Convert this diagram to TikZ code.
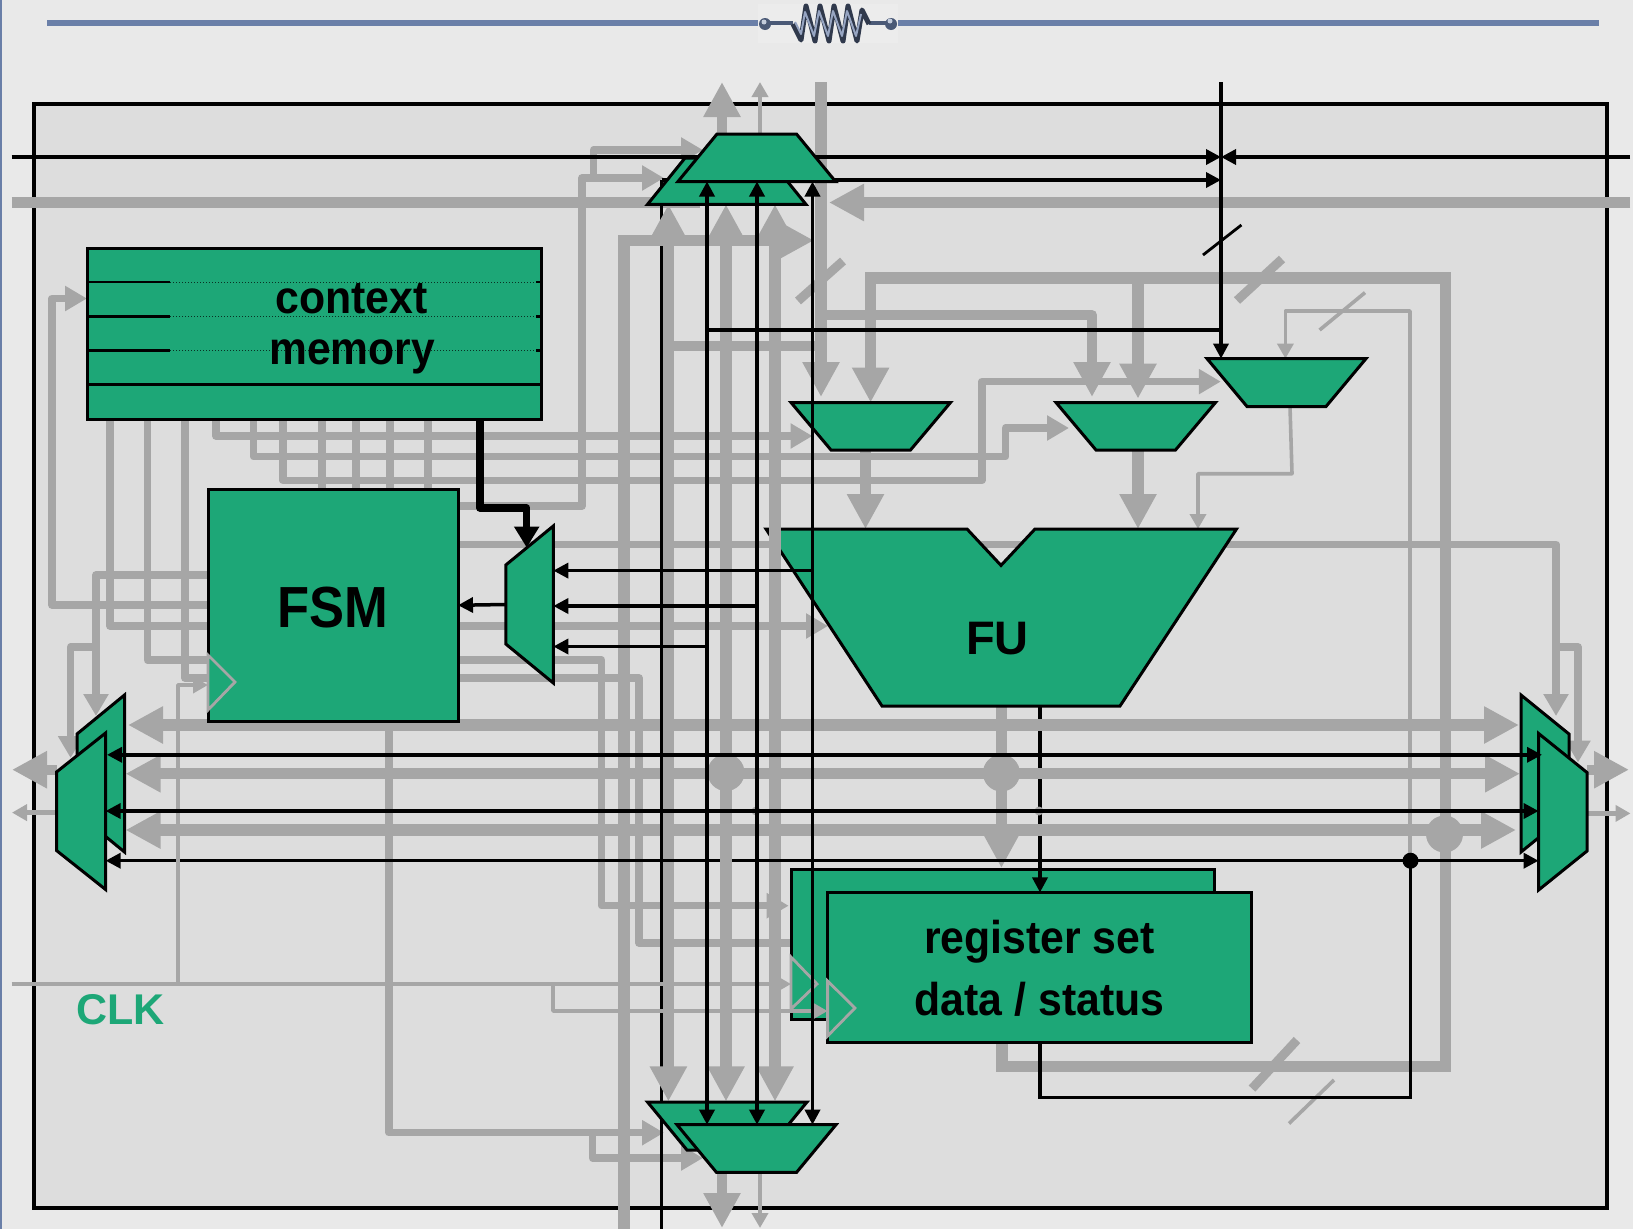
\documentclass[tikz,border=0pt]{standalone}
\usepackage{graphicx}
\usepackage{fontspec}
\setmainfont{Liberation Sans}
\usetikzlibrary{arrows.meta,calc}
\definecolor{gr}{HTML}{A6A6A6}
\definecolor{grn}{HTML}{1DA777}
\definecolor{pagebg}{HTML}{E9E9E9}
\definecolor{panel}{HTML}{DDDDDD}
\definecolor{hdr}{HTML}{6A7FA8}
\tikzset{
 slot/.style={inner sep=0pt,outer sep=0pt,draw=none},
 block/.style={fill=grn,draw=black,line width=3pt,line join=miter},
 clk/.style={fill=grn,draw=gr,line width=2.8pt,line join=miter},
 bus/.style={draw=gr,line width=11.5pt,line join=miter},
 wire/.style={draw=gr,line width=7.5pt,line join=round},
 thn/.style={draw=gr,line width=3.6pt,line join=round},
 blk/.style={draw=black,line width=3.5pt,line join=miter},
 bigtip/.style={-{Triangle[length=35pt,width=35pt]}},
 bigtips/.style={{Triangle[length=35pt,width=35pt]}-{Triangle[length=35pt,width=35pt]}},
 medtip/.style={-{Triangle[length=22pt,width=24pt]}},
 smalltip/.style={-{Triangle[length=15pt,width=16pt]}},
 blktip/.style={-{Triangle[length=15pt,width=15pt]}},
 blktips/.style={{Triangle[length=15pt,width=15pt]}-{Triangle[length=15pt,width=15pt]}},
 lbl/.style={inner sep=0pt,anchor=base,font=\bfseries},
 junction/.style={circle,fill=gr,inner sep=0pt,minimum size=37pt},
}
\newcommand\slotbox[5]{\node[slot,minimum width={#4-#2},minimum height={#5-#3}] (#1) at ({(#2+#4)/2},{(#3+#5)/2}) {};}
\newcommand\trapdown[2]{\draw[block] (#1.north west) -- (#1.north east) -- ([xshift=-#2pt]#1.south east) -- ([xshift=#2pt]#1.south west) -- cycle;}
\newcommand\trapup[2]{\draw[block] ([xshift=#2pt]#1.north west) -- ([xshift=-#2pt]#1.north east) -- (#1.south east) -- (#1.south west) -- cycle;}
\newcommand\sideR[2]{\draw[block] (#1.north east) -- (#1.south east) -- ([yshift=#2pt]#1.south west) -- ([yshift=-#2pt]#1.north west) -- cycle;}
\newcommand\sideL[2]{\draw[block] (#1.north west) -- (#1.south west) -- ([yshift=#2pt]#1.south east) -- ([yshift=-#2pt]#1.north east) -- cycle;}
\begin{document}
\begin{tikzpicture}[x=1pt,y=-1pt]
\useasboundingbox (0,0) rectangle (1633,1229);
\fill[pagebg] (0,0) rectangle (1633,1229);
\fill[hdr] (0,0) rectangle (2,1229);
% named places
\slotbox{hdrline}{46.5}{20.2}{1599}{25.8}
\slotbox{frame}{34}{104}{1607}{1208}
\slotbox{ctx}{87}{248}{541}{419}
\slotbox{fsm}{208}{489.5}{458}{721}
\slotbox{smux}{505.8}{526}{553.3}{683}
\slotbox{fu}{766}{529}{1236.5}{706}
\slotbox{regb}{791}{869.6}{1214}{1019}
\slotbox{regf}{827.6}{892.4}{1251.6}{1042}
\slotbox{mtb}{647.5}{158}{806}{204.4}
\slotbox{mtf}{678}{134}{835.5}{181.5}
\slotbox{mbb}{647.5}{1102}{807}{1150}
\slotbox{mbf}{677}{1124.7}{836}{1172.4}
\slotbox{ma}{791}{402.5}{950.5}{450}
\slotbox{mb}{1056}{402.5}{1215.5}{450}
\slotbox{mc}{1207}{358.6}{1366}{406.5}
\slotbox{lb}{77}{695}{124.5}{852}
\slotbox{lf}{56.5}{733}{105.6}{889.5}
\slotbox{rb}{1521}{695}{1569}{852}
\slotbox{rf}{1538.6}{733.5}{1587}{890}
\coordinate (topbus) at (821,82);
\coordinate (topv) at (1221,82);
\coordinate (wl) at (11.5,157);
\coordinate (wr) at (1630,157);
\coordinate (gl) at (11.5,202.5);
\coordinate (gr1) at (1630,202.5);
\coordinate (clkin) at (11.5,984);
% header
\fill[hdr] (hdrline.north west) rectangle (hdrline.south east);
\fill[white!15!pagebg] (757.6,4) rectangle (898,43);
\draw[line width=4pt,draw=hdr!70!black] (765,23) -- (793,23);
\draw[line width=4pt,draw=hdr!70!black] (869,23) -- (891,23);
\fill[hdr!70!black] (765,24) circle (6pt) (891,24) circle (6pt);
\fill[hdr!40!white] (764,22) circle (2.5pt) (890,21) circle (2.5pt);
\draw[line width=5pt,draw=hdr!45!black,line join=round] (793,24) -- (801,40) -- (806,6) -- (815,41) -- (820,6) -- (829,41) -- (834,6) -- (843,41) -- (848,6) -- (857,41) -- (862,10) -- (869,24);
\draw[line width=2pt,draw=hdr!70!white,line join=round] (795,22) -- (801,34) -- (805,12) -- (814,36) -- (819,11) -- (828,36) -- (833,11) -- (842,36) -- (847,11) -- (856,36) -- (861,14);
% frame
\draw[fill=panel,draw=black,line width=3.5pt] (frame.north west) rectangle (frame.south east);
% --- grey under the blocks
\draw[bus] (gl) -- (700,202.5);
\draw[bus,bigtip] (gr1) -- (829,202.5);
\draw[wire,medtip] (fsm.east |- 0,544.5) -- (1556,544.5) -- (1556,716);
\draw[wire,medtip] (1556,647) -- (1578,647) -- (1578,762.5);
\draw[wire,medtip] (110,0 |- ctx.south) -- (110,626) -- (828,626);
\draw[wire,medtip] (147.5,0 |- ctx.south) -- (147.5,660) -- (601.5,660) -- (601.5,905.7) -- (788.7,905.7);
\draw[wire] (185,0 |- ctx.south) -- (185,678) -- (639,678) -- (639,943) -- (regb.west |- 0,943);
\draw[wire,medtip] (216,0 |- ctx.south) -- (216,436) -- (812.5,436);
\draw[wire,medtip] (253.6,0 |- ctx.south) -- (253.6,456.7) -- (1005.6,456.7) -- (1005.6,428) -- (1069,428);
\draw[wire,medtip] (283,0 |- ctx.south) -- (283,480.4) -- (981.8,480.4) -- (981.8,381.6) -- (1220.8,381.6);
\foreach \q in {322,356,390,428}{\draw[wire] (\q,0 |- ctx.south) -- (\q,0 |- fsm.north);}
\draw[wire,medtip] (fsm.west |- 0,575) -- (96,575) -- (96,716);
\draw[wire,medtip] (96,647) -- (70.6,647) -- (70.6,758);
\draw[wire,medtip] (fsm.west |- 0,605) -- (52,605) -- (52,298.5) -- (ctx.west |- 0,298.5);
\draw[wire,medtip] (fsm.east |- 0,506) -- (582,506) -- (582,178) -- (664,178);
\draw[wire,medtip] (593.6,178) -- (593.6,150) -- (703,150);
\draw[wire,medtip] (389,0 |- fsm.south) -- (389,1132.7) -- (664,1132.7);
\draw[wire,medtip] (592.6,1132.7) -- (592.6,1158) -- (703,1158);
% black wire that runs under the grey bands
\draw[blk] (1040,0 |- fu.south) -- (1040,850);
% bands
\draw[bus,bigtips] (128,725) -- (1519,725);
\draw[bus,bigtips] (125.5,773.7) -- (1520,773.7);
\draw[bus,bigtips] (125.5,830) -- (1516,830);
\node[junction] (j1) at (726,772.5) {};
\node[junction] (j2) at (1001.4,773) {};
\node[junction] (j3) at (1444.5,834) {};
% heavy feedback bus
\draw[bus,bigtip] (1002,0 |- regf.south) -- (1002,1066.5) -- (1445.6,1066.5) -- (1445.6,278) -- (870.6,278) -- (870.6,0 |- ma.north);
\draw[bus,bigtip] (1138,278) -- (1138,398.6);
\draw[bus,bigtip] (topbus) -- (821,397);
\draw[wire,line width=10pt,bigtip,line join=round] (821,315) -- (1092,315) -- (1092,397);
\draw[bus,line width=10.5pt] (669.5,346) -- (821,346);
\draw[bus,line width=9pt] (798,301) -- (843,261);
\draw[bus,line width=9pt] (1237,300.5) -- (1282,259);
\draw[bus,line width=9pt] (1252,1088.6) -- (1297,1040);
\draw[thn] (1289,1123.5) -- (1334,1080);
\draw[thn] (1319.6,330) -- (1365,292.6);
% thin feedback
\draw[thn,smalltip] (1410,860) -- (1410,311) -- (1285.4,311) -- (1285.4,0 |- mc.north);
\draw[thn,smalltip] (1290,0 |- mc.south) -- (1292,473.7) -- (1198,473.7) -- (1198,0 |- fu.north);
% mux outputs and FU output
\draw[bus,bigtip] (865.5,0 |- ma.south) -- (865.5,0 |- fu.north);
\draw[bus,bigtip] (1138,0 |- mb.south) -- (1138,0 |- fu.north);
\draw[bus,bigtip] (1001.4,0 |- fu.south) -- (1001.4,868);
% top and bottom outputs
\draw[bus,line width=10pt,bigtip] (722,0 |- mtf.north) -- (722,82);
\draw[thn,line width=4.5pt,smalltip] (760,0 |- mtf.north) -- (760,82);
\draw[bus,line width=10pt,bigtip] (722,0 |- mbf.south) -- (722,1228);
\draw[thn,line width=4.5pt,smalltip] (760,0 |- mbf.south) -- (760,1228);
% side outputs
\draw[bus,line width=10pt,bigtip] (lf.west |- 0,769.7) -- (12,769.7);
\draw[thn,line width=4.5pt,smalltip] (lf.west |- 0,812.6) -- (12,812.6);
\draw[bus,line width=10pt,bigtip] (rf.east |- 0,769.7) -- (1629,769.7);
\draw[thn,line width=4.5pt,smalltip] (rf.east |- 0,813.4) -- (1630.5,813.4);
% blocks
\draw[block,draw=black] (ctx.north west) rectangle (ctx.south east);
\foreach \q in {282,316.3,350.3}{
  \draw[black,line width=2.8pt] (ctx.west |- 0,\q) -- (170,\q);
  \draw[black!70!grn,line width=1pt,dotted] (170,\q) -- (536,\q);
  \draw[black,line width=2.8pt] (536,\q) -- (ctx.east |- 0,\q);
}
\draw[black,line width=2.8pt] (ctx.west |- 0,384.3) -- (ctx.east |- 0,384.3);
\draw[block] (fsm.north west) rectangle (fsm.south east);
\draw[clk] (208,655) -- (235,682) -- (208,710) -- cycle;
\sideR{smux}{39}
\trapdown{ma}{40}
\trapdown{mb}{40}
\trapdown{mc}{40}
\draw[block] (fu.north west) -- (967,529) -- (1001,565.4) -- (1035,529) -- (fu.north east) -- (1120,706) -- (882,706) -- cycle;
% heavy black control arrow
\draw[blk,line width=7.5pt,line join=round,-{Triangle[length=21pt,width=24pt]}] (480,0 |- ctx.south) -- (480,508) -- (526.7,508) -- (526.7,547.6);
% vertical buses over the FU corner
\draw[blk] (661.6,180) -- (661.6,1229);
\draw[bus,bigtip] (624,1229) -- (624,240.4) -- (814,240.4);
\draw[bus,bigtips] (668.4,204.4) -- (668.4,1101.4);
\draw[bus,bigtips] (775,204.4) -- (775,1101.4);
\draw[blk,blktips] (lf.east |- 0,860.7) -- (rf.west |- 0,860.7);
\draw[bus,bigtips] (726,204.4) -- (726,1101.4);
% registers
\draw[block] (regb.north west) rectangle (regb.south east);
\draw[clk] (791,957) -- (817,984) -- (791,1009) -- cycle;
\draw[block] (regf.north west) rectangle (regf.south east);
\draw[clk] (827.6,981) -- (855,1008) -- (827.6,1036) -- cycle;
% CLK net
\draw[thn,smalltip] (clkin) -- (regb.west |- 0,984);
\draw[thn,smalltip] (178,984) -- (178,685) -- (fsm.west |- 0,685);
\draw[thn,smalltip] (553,984) -- (553,1011) -- (regf.west |- 0,1011);
% side and top muxes
\sideR{lb}{39}
\sideR{lf}{39}
\sideL{rb}{39}
\sideL{rf}{39}
\draw[blk,blktip] (wl) -- (topv |- wl);
\draw[blk,blktip] (661.6,180) -- (1221,180);
\draw[blk,blktip] (wr) -- (topv |- wr);
\trapup{mtb}{37.5}
\trapup{mtf}{39}
\trapdown{mbb}{39.5}
\trapdown{mbf}{39.5}
% small grey dots under the black wires
\fill[gr] (756,811) circle (4.5pt) (1039,811) circle (4.5pt);
% black over everything
\draw[blk,blktip] (topv) -- (topv |- mc.north);
\draw[blk,line width=2.8pt] (1203,255) -- (1241.4,225);
\draw[blk] (707,330) -- (1221,330);
\draw[blk,blktips] (707,0 |- mtf.south) -- (707,0 |- mbf.north);
\draw[blk,blktips] (757,0 |- mtf.south) -- (757,0 |- mbf.north);
\draw[blk,blktips] (812.5,0 |- mtf.south) -- (812.5,0 |- mbf.north);
\draw[blk,blktip] (812.5,570.6) -- (smux.east |- 0,570.6);
\draw[blk,blktip] (757,606) -- (smux.east |- 0,606);
\draw[blk,blktip] (707,646.5) -- (smux.east |- 0,646.5);
\draw[blk,blktip] (smux.west) -- (fsm.east);
\draw[blk,blktips] (107,754.8) -- (1542,754.8);
\draw[blk,blktips] (lf.east |- 0,811) -- (rf.west |- 0,811);
\draw[blk,blktip] (1040,845) -- (1040,0 |- regf.north);
\draw[blk] (1040,0 |- regf.south) -- (1040,1097.4) -- (1410.5,1097.4) -- (1410.5,860.7);
\fill[black] (1410.5,860.7) circle (8pt);
% labels
\node[lbl] (tctx) at (351.5,313) {\fontsize{46}{46}\selectfont\scalebox{.93}[1]{context}};
\node[lbl] (tmem) at (352,364) {\fontsize{46}{46}\selectfont\scalebox{.925}[1]{memory}};
\node[lbl] (tfsm) at (333,627) {\fontsize{58}{58}\selectfont\scalebox{.905}[1]{FSM}};
\node[lbl] (tfu) at (997.5,654) {\fontsize{47}{47}\selectfont\scalebox{1}[1]{FU}};
\node[lbl] (treg) at (1039.5,953.5) {\fontsize{46}{46}\selectfont\scalebox{.93}[1]{register set}};
\node[lbl] (tdat) at (1039.5,1015) {\fontsize{46}{46}\selectfont\scalebox{.93}[1]{data / status}};
\node[lbl,text=grn] (tclk) at (120.5,1024) {\fontsize{43}{43}\selectfont CLK};
\end{tikzpicture}
\end{document}
